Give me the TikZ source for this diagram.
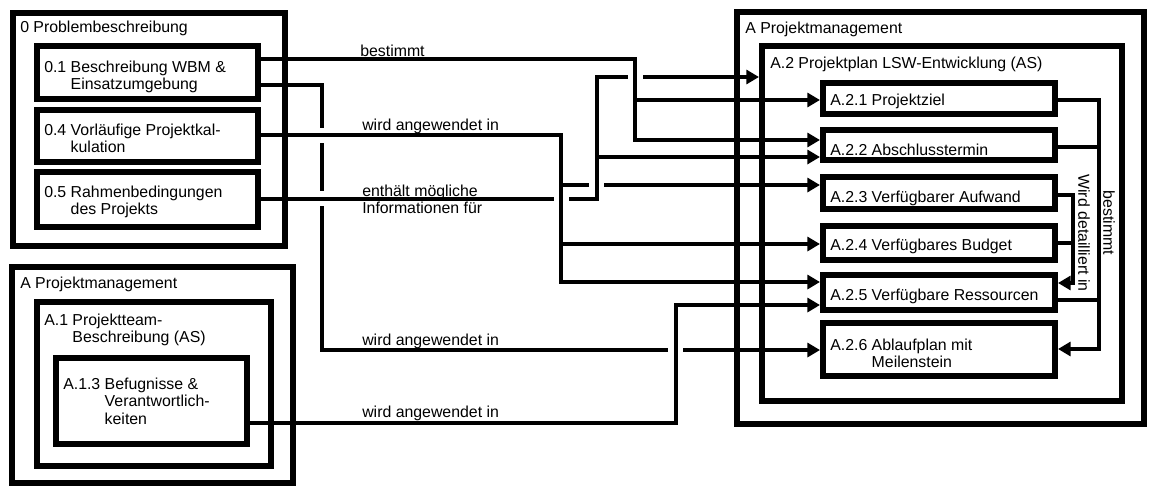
\documentclass[tikz,border=0pt]{standalone}
\usepackage{fontspec}
\setmainfont{Liberation Sans}
\usetikzlibrary{fit,arrows.meta}
\begin{document}
\begin{tikzpicture}[x=0.75pt,y=-0.75pt,
  box/.style={draw, line width=4.5pt, inner sep=0pt},
  lbl/.style={anchor=west, inner sep=0pt, font=\fontsize{11.9}{13}\selectfont, align=left},
  conn/.style={line width=3pt},
  arr/.style={conn, -{Triangle[length=9.5pt,width=10.5pt]}}]
\useasboundingbox[fill=white] (0,0) rectangle (1151,486);

% ---- boxes, left top
\node[box, fit={(13,13) (285,246)}] (b0) {};
\node[box, fit={(37,46) (258,99)}] (n01) {};
\node[box, fit={(37,110) (258,162)}] (n04) {};
\node[box, fit={(37,172) (258,227)}] (n05) {};
% ---- boxes, left bottom
\node[box, fit={(12,267) (293,483)}] (ba) {};
\node[box, fit={(37,302) (271,466)}] (ba1) {};
\node[box, fit={(56,358) (247,444)}] (n13) {};
% ---- boxes, right
\node[box, fit={(737,12) (1144,424)}] (br) {};
\node[box, fit={(762,46) (1122,401)}] (a2) {};
\node[box, fit={(823,83) (1055,114)}] (a21) {};
\node[box, fit={(823,130) (1055,160)}] (a22) {};
\node[box, fit={(823,177) (1055,209)}] (a23) {};
\node[box, fit={(823,226) (1055,260)}] (a24) {};
\node[box, fit={(823,275) (1055,310)}] (a25) {};
\node[box, fit={(823,323) (1055,376)}] (a26) {};

% ---- texts
\node[lbl] (t0) at (20,28) {0 Problembeschreibung};
\node[lbl] (t01) at (44,77) {0.1 Beschreibung WBM \&\\\hphantom{0.1 }Einsatzumgebung};
\node[lbl] (t04) at (44,138) {0.4 Vorläufige Projektkal-\\\hphantom{0.4 }kulation};
\node[lbl] (t05) at (44,202) {0.5 Rahmenbedingungen\\\hphantom{0.5 }des Projekts};
\node[lbl] (tA) at (20,284) {A Projektmanagement};
\node[lbl] (tA1) at (44,330) {A.1 Projektteam-\\\hphantom{A.1 }Beschreibung (AS)};
\node[lbl] (tA13) at (63,401) {A.1.3 Befugnisse \&\\\hphantom{A.1.3 }Verantwortlich-\\\hphantom{A.1.3 }keiten};
\node[lbl] (tAr) at (745,29) {A Projektmanagement};
\node[lbl] (tA2) at (770,64) {A.2 Projektplan LSW-Entwicklung (AS)};
\node[lbl] (t21) at (830,101) {A.2.1 Projektziel};
\node[lbl] (t22) at (830,150) {A.2.2 Abschlusstermin};
\node[lbl] (t23) at (830,198) {A.2.3 Verfügbarer Aufwand};
\node[lbl] (t24) at (830,246) {A.2.4 Verfügbares Budget};
\node[lbl] (t25) at (830,296) {A.2.5 Verfügbare Ressourcen};
\node[lbl] (t26) at (830,353) {A.2.6 Ablaufplan mit\\\hphantom{A.2.6 }Meilenstein};
% connector labels
\node[lbl] (c1) at (360,51) {bestimmt};
\node[lbl] (c2) at (362,126) {wird angewendet in};
\node[lbl] (c3) at (362,199) {enthält mögliche\\Informationen für};
\node[lbl] (c4) at (362,341) {wird angewendet in};
\node[lbl] (c5) at (362,413) {wird angewendet in};
\node[lbl, anchor=center, rotate=-90] (c6) at (1084,233) {Wird detailliert in};
\node[lbl, anchor=center, rotate=-90] (c7) at (1109,223) {bestimmt};

% ---- junctions
\coordinate (j1) at (635,100);
\coordinate (j3a) at (561,185);
\coordinate (j3b) at (561,244);
\coordinate (j4) at (597,157);
\coordinate (jr1) at (1073,243);
\coordinate (jr2) at (1099,147);
\coordinate (jr3) at (1099,300);

% ---- connectors
\draw[arr] (n01.east |- 0,59) -| (635,140) -- (a22.west |- 0,140);
\draw[arr] (j1) -- (a21.west |- 0,100);

\draw[arr] (n01.east |- 0,85) -- (322,85) -- (322,128) (322,143) -- (322,191)
  (322,206) -- (322,350) -- (668,350) (683,350) -- (a26.west |- 0,350);

\draw[arr] (n04.east |- 0,135) -- (561,135) -- (561,282) -- (a25.west |- 0,282);
\draw[arr] (j3a) -- (589,185) (604,185) -- (a23.west |- 0,185);
\draw[arr] (j3b) -- (a24.west |- 0,244);

\draw[arr] (n05.east |- 0,199) -- (554,199) (569,199) -- (597,199) -- (597,77)
  -- (628,77) (643,77) -- (a2.west |- 0,77);
\draw[arr] (j4) -- (a22.west |- 0,157);

\draw[arr] (n13.east |- 0,423) -- (676,423) -- (676,305) -- (a25.west |- 0,305);

\draw[arr] (a23.east |- 0,195) -- (1073,195) -- (1073,283) -- (a25.east |- 0,283);
\draw[conn] (a24.east |- 0,243) -- (jr1);
\draw[arr] (a21.east |- 0,100) -- (1099,100) -- (1099,349) -- (a26.east |- 0,349);
\draw[conn] (a22.east |- 0,147) -- (jr2);
\draw[conn] (a25.east |- 0,300) -- (jr3);
\end{tikzpicture}
\end{document}
